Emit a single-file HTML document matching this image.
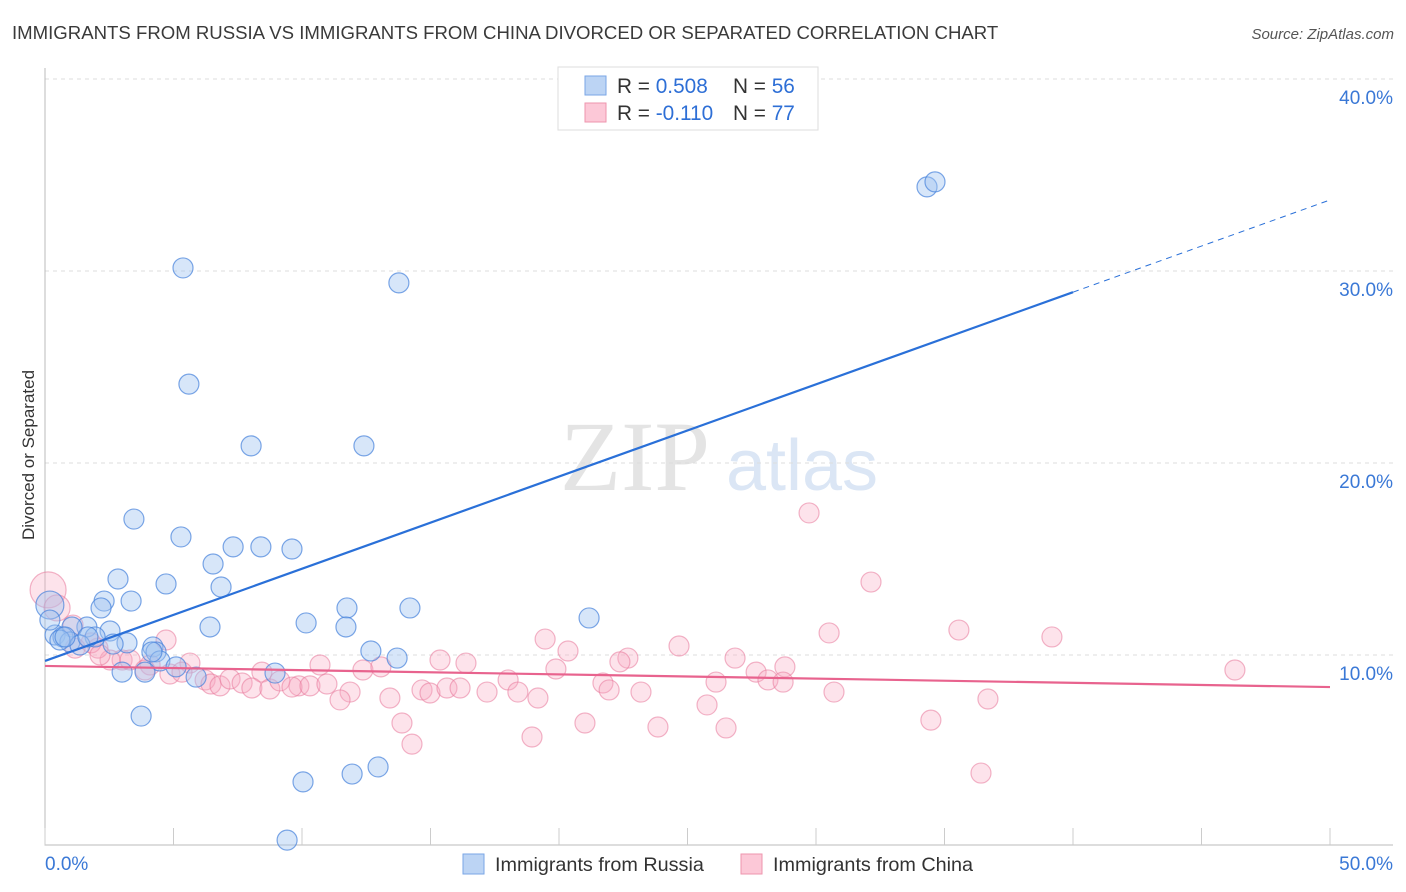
<!DOCTYPE html>
<html><head><meta charset="utf-8"><style>
body{margin:0;background:#fff;font-family:"Liberation Sans",sans-serif;}
svg{display:block}
</style></head><body>
<svg id="chart" width="1406" height="892">
<text x="12" y="39" font-size="18.6" fill="#3a3a3a">IMMIGRANTS FROM RUSSIA VS IMMIGRANTS FROM CHINA DIVORCED OR SEPARATED CORRELATION CHART</text>
<text x="1394" y="39" font-size="15" font-style="italic" fill="#555" text-anchor="end">Source: ZipAtlas.com</text>
<text x="34" y="455" font-size="17" fill="#333" text-anchor="middle" transform="rotate(-90 34 455)">Divorced or Separated</text>
<g><text x="635" y="490" font-family="Liberation Serif,serif" font-size="100" fill="#e4e4e4" text-anchor="middle">ZIP</text><text x="802" y="490" font-size="72" fill="#dbe6f5" text-anchor="middle">atlas</text></g>
<g id="grid"></g><g id="axes"></g><g id="pts"></g><g id="trend"></g>
<g>
<rect x="558" y="67" width="260" height="63" fill="#fff" stroke="#ddd"/>
<rect x="585" y="76" width="21" height="19" fill="#bcd4f4" stroke="#7aa6e6"/>
<rect x="585" y="103" width="21" height="19" fill="#fcc8d7" stroke="#ee95ae"/>
<text x="617" y="93" font-size="20.8" fill="#333">R = <tspan fill="#2e6fd6">0.508</tspan><tspan x="733">N = </tspan><tspan fill="#2e6fd6">56</tspan></text>
<text x="617" y="120" font-size="20.8" fill="#333">R = <tspan fill="#2e6fd6">-0.110</tspan><tspan x="733">N = </tspan><tspan fill="#2e6fd6">77</tspan></text>
</g>
<g>
<rect x="463" y="854" width="21" height="20" fill="#bcd4f4" stroke="#7aa6e6"/>
<text x="495" y="871" font-size="19.8" fill="#333">Immigrants from Russia</text>
<rect x="741" y="854" width="21" height="20" fill="#fcc8d7" stroke="#ee95ae"/>
<text x="773" y="871" font-size="19.8" fill="#333">Immigrants from China</text>
</g>
</svg>
<script>
const yTicks=[10,20,30,40];
const yTickLabels=["10.0%","20.0%","30.0%","40.0%"];
const xTickLabels=["0.0%","50.0%"];
const russiaX=[5.37,13.77,34.32,34.63,5.60,8.02,12.41,3.46,5.29,7.32,8.40,9.61,6.54,2.84,4.71,6.85,2.30,3.35,2.18,11.75,14.20,21.17,10.16,6.42,11.71,1.63,1.05,2.53,0.39,0.70,1.95,3.19,0.97,1.36,2.65,4.20,4.32,12.68,13.70,4.47,5.10,3.00,3.89,8.95,5.88,3.74,10.04,11.95,12.96,9.42,0.19,0.19,0.58,1.67,0.78,4.16];
const russiaY=[30.16,29.38,34.38,34.64,24.11,20.89,20.89,17.08,16.15,15.63,15.63,15.52,14.74,13.96,13.70,13.54,12.81,12.81,12.45,12.45,12.45,11.93,11.67,11.46,11.46,11.46,11.46,11.25,11.04,10.94,10.94,10.63,10.68,10.52,10.57,10.42,10.16,10.21,9.84,9.69,9.38,9.11,9.11,9.06,8.85,6.82,3.39,3.80,4.17,0.36,12.60,11.82,10.78,10.94,10.94,10.16];
const chinaX=[0.12,0.47,29.73,32.14,39.18,35.56,30.51,46.30,19.46,20.35,24.67,22.68,22.37,15.37,16.38,19.88,26.85,28.79,27.67,28.13,28.72,26.11,21.71,18.02,10.70,12.37,13.07,8.44,9.88,5.64,4.71,3.00,2.53,2.06,1.79,1.09,3.31,4.09,4.86,5.33,6.23,6.46,6.81,7.20,7.67,8.05,8.75,9.14,9.61,10.31,10.97,11.87,11.48,14.67,14.98,15.64,16.15,17.20,18.40,19.18,23.19,21.95,30.70,25.76,36.69,13.42,13.89,14.28,18.95,21.01,23.85,26.50,34.47,36.42,3.89,2.14,1.17];
const chinaY=[13.39,12.45,17.40,13.80,10.94,11.30,11.15,9.22,10.83,10.21,10.47,9.84,9.64,9.74,9.58,9.27,9.84,9.38,9.11,8.70,8.59,8.59,8.54,8.70,9.48,9.22,9.38,9.11,8.39,9.58,10.78,9.74,9.74,10.36,10.63,11.56,9.74,9.48,9.01,9.11,8.70,8.49,8.39,8.75,8.54,8.28,8.23,8.65,8.33,8.39,8.49,8.07,7.66,8.18,8.02,8.28,8.28,8.07,8.07,7.76,8.07,8.18,8.07,7.40,7.71,7.76,6.46,5.36,5.73,6.46,6.25,6.20,6.61,3.85,9.22,10.00,10.36];
const russiaTrend=[9.69,33.7];
const chinaTrend=[9.43,8.33];
const NS="http://www.w3.org/2000/svg";
const xs=v=>45+v/50*1285;
const ys=v=>847-v*19.2;
function mk(tag,parent,attrs){const e=document.createElementNS(NS,tag);for(const k in attrs)e.setAttribute(k,attrs[k]);document.getElementById(parent).appendChild(e);return e;}
yTicks.forEach((t,i)=>{
 const g=mk('line','grid',{x1:45,x2:1393,y1:ys(t),y2:ys(t),stroke:'#ddd','stroke-dasharray':'4,4'});
 
 
 const l=mk('text','axes',{x:1393,y:ys(t)+25,'font-size':19,fill:'#3a78d6','text-anchor':'end'});
 l.textContent=yTickLabels[i];
 
 
});
const ax=mk('path','axes',{d:'M45,68V845H1393',fill:'none',stroke:'#bbb'});


for(let i=0;i<=10;i++){const tk=mk('line','axes',{x1:xs(i*5),x2:xs(i*5),y1:828,y2:845,stroke:'#ccc'});
 
 }
const xl0=mk('text','axes',{x:45,y:870,'font-size':19,fill:'#3a78d6'});xl0.textContent=xTickLabels[0];


const xl1=mk('text','axes',{x:1393,y:870,'font-size':19,fill:'#3a78d6','text-anchor':'end'});xl1.textContent=xTickLabels[1];


chinaX.forEach((x,i)=>{const r=i==0?18:(i==1?13:10);
 const c=mk('circle','pts',{cx:xs(x),cy:ys(chinaY[i]),r:r,fill:'rgba(248,170,195,0.33)',stroke:'rgba(232,120,155,0.55)','stroke-width':1.2});
 
 });
russiaX.forEach((x,i)=>{const r=i==50?14:10;
 const c=mk('circle','pts',{cx:xs(x),cy:ys(russiaY[i]),r:r,fill:'rgba(160,195,240,0.42)',stroke:'rgba(70,130,220,0.7)','stroke-width':1.2});
 
 });
const rAt=x=>russiaTrend[0]+(russiaTrend[1]-russiaTrend[0])*x/50;
const t1=mk('line','trend',{x1:xs(0),y1:ys(rAt(0)),x2:xs(40),y2:ys(rAt(40)),stroke:'#2a70d8','stroke-width':2.2});


const t2=mk('line','trend',{x1:xs(40),y1:ys(rAt(40)),x2:xs(50),y2:ys(rAt(50)),stroke:'#2a70d8','stroke-width':1,'stroke-dasharray':'6,5'});


const t3=mk('line','trend',{x1:xs(0),y1:ys(chinaTrend[0]),x2:xs(50),y2:ys(chinaTrend[1]),stroke:'#e8638e','stroke-width':2.2});


</script>
</body></html>
